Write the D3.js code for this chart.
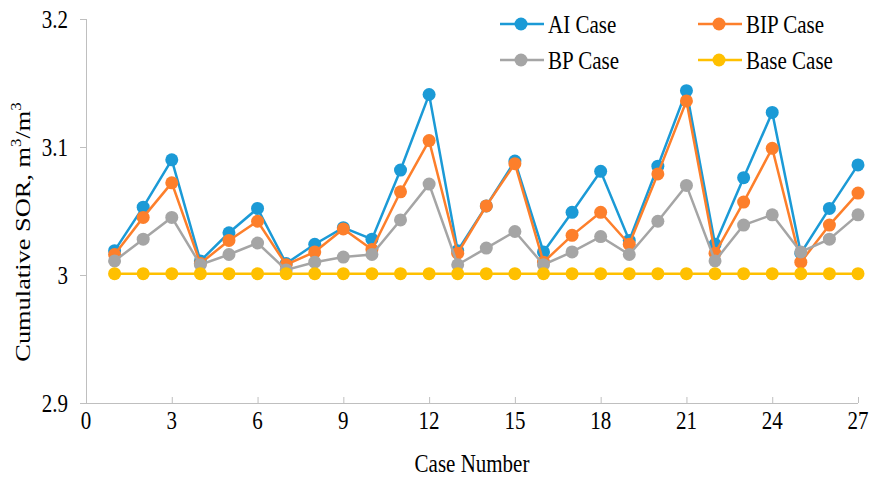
<!DOCTYPE html>
<html>
<head>
<meta charset="utf-8">
<script src="https://cdn.jsdelivr.net/npm/d3@7/dist/d3.min.js"></script>
<style>
  html, body { margin: 0; padding: 0; background: #fff; }
  svg { display: block; }
  text { font-family: "Liberation Serif", "Times New Roman", serif; fill: #000; }
</style>
</head>
<body>
<svg id="chart" width="872" height="479"></svg>
<script>
// Cumulative SOR per simulation case, four scenarios
const caseNumbers = d3.range(1, 28);
const aiCase   = [3.019, 3.053, 3.090, 3.011, 3.033, 3.052, 3.009, 3.024, 3.037, 3.028,
                  3.082, 3.141, 3.019, 3.054, 3.089, 3.018, 3.049, 3.081, 3.027, 3.085,
                  3.144, 3.024, 3.076, 3.127, 3.017, 3.052, 3.086];
const bipCase  = [3.016, 3.045, 3.072, 3.009, 3.027, 3.042, 3.008, 3.018, 3.036, 3.020,
                  3.065, 3.105, 3.017, 3.054, 3.087, 3.010, 3.031, 3.049, 3.024, 3.079,
                  3.136, 3.017, 3.057, 3.099, 3.010, 3.039, 3.064];
const bpCase   = [3.011, 3.028, 3.045, 3.008, 3.016, 3.025, 3.004, 3.010, 3.014, 3.016,
                  3.043, 3.071, 3.008, 3.021, 3.034, 3.008, 3.018, 3.030, 3.016, 3.042,
                  3.070, 3.011, 3.039, 3.047, 3.018, 3.028, 3.047];
const baseCase = [3.001, 3.001, 3.001, 3.001, 3.001, 3.001, 3.001, 3.001, 3.001, 3.001,
                  3.001, 3.001, 3.001, 3.001, 3.001, 3.001, 3.001, 3.001, 3.001, 3.001,
                  3.001, 3.001, 3.001, 3.001, 3.001, 3.001, 3.001];

const seriesNames  = ["AI Case", "BIP Case", "BP Case", "Base Case"];
const seriesColors = ["#1b9ad6", "#fd7f2b", "#a5a5a5", "#ffc000"];
const seriesValues = [aiCase, bipCase, bpCase, baseCase];

const xTicks = [0, 3, 6, 9, 12, 15, 18, 21, 24, 27];
const yTicks = [2.9, 3.0, 3.1, 3.2];

const svg = d3.select("#chart");
const x = d3.scaleLinear().domain([0, 27]).range([86, 858]);
const y = d3.scaleLinear().domain([2.9, 3.2]).range([403, 19]);
const axisColor = "#bfbfbf";
const fontSize = 21;
const stretch = 1.2;   // tall, narrow serif lettering

// places a text node at (px, py) with the vertical stretch applied
function placed(sel, px, py) {
  return sel.attr("transform", `translate(${px},${py}) scale(1,${stretch})`);
}

// y axis: line plus short inward ticks
const yAxis = svg.append("g").attr("transform", `translate(${x(0)},0)`)
  .call(d3.axisRight(y).tickValues(yTicks).tickSize(6).tickFormat(""));
yAxis.select(".domain").attr("stroke", axisColor).attr("d", `M0.5,${y(3.2)}V${y(2.9)}`);
yAxis.selectAll(".tick line").attr("stroke", axisColor).attr("x1", -6).attr("x2", 0);
svg.append("g").selectAll("text").data(yTicks).join("text")
  .each(function (d) { placed(d3.select(this), 68, y(d)); })
  .attr("dy", "0.35em").attr("text-anchor", "end").attr("font-size", fontSize)
  .text(d => String(+d.toFixed(1)));

// x axis: line with upward ticks
const xAxis = svg.append("g").attr("transform", `translate(0,${y(2.9)})`)
  .call(d3.axisTop(x).tickValues(xTicks).tickSize(6).tickFormat(""));
xAxis.select(".domain").attr("stroke", axisColor).attr("d", `M${x(0)},0.5H${x(27)}`);
xAxis.selectAll(".tick line").attr("stroke", axisColor);
svg.append("g").selectAll("text").data(xTicks).join("text")
  .each(function (d) { placed(d3.select(this), x(d), 429); })
  .attr("text-anchor", "middle").attr("font-size", fontSize)
  .text(d => d);

// axis titles
placed(svg.append("text"), 472, 472).attr("text-anchor", "middle")
  .attr("font-size", fontSize).text("Case Number");
const yt = svg.append("text")
  .attr("transform", `translate(30,232) scale(1,${stretch}) rotate(-90)`)
  .attr("text-anchor", "middle").attr("font-size", 22);
yt.append("tspan").text("Cumulative SOR, m");
yt.append("tspan").attr("font-size", 14).attr("dy", -9).text("3");
yt.append("tspan").attr("dy", 9).text("/m");
yt.append("tspan").attr("font-size", 14).attr("dy", -9).text("3");

// series lines and markers
const line = d3.line().x((d, i) => x(caseNumbers[i])).y(d => y(d));
seriesValues.forEach((vals, si) => {
  const g = svg.append("g");
  g.append("path").datum(vals).attr("d", line)
    .attr("fill", "none").attr("stroke", seriesColors[si]).attr("stroke-width", 2.5);
  g.selectAll("circle").data(vals).join("circle")
    .attr("cx", (d, i) => x(caseNumbers[i])).attr("cy", d => y(d))
    .attr("r", 6.5).attr("fill", seriesColors[si]);
});

// legend, two columns
const legendPos = [[500, 24], [698, 24], [500, 60], [698, 60]];
seriesNames.forEach((name, i) => {
  const [lx, ly] = legendPos[i];
  const g = svg.append("g").attr("transform", `translate(${lx},${ly})`);
  g.append("line").attr("x1", 0).attr("x2", 44).attr("y1", 0).attr("y2", 0)
    .attr("stroke", seriesColors[i]).attr("stroke-width", 2.5);
  g.append("circle").attr("cx", 21).attr("cy", 0).attr("r", 6.5).attr("fill", seriesColors[i]);
  placed(g.append("text"), 48, 0).attr("dy", "0.35em")
    .attr("font-size", fontSize).text(name);
});
</script>
</body>
</html>
